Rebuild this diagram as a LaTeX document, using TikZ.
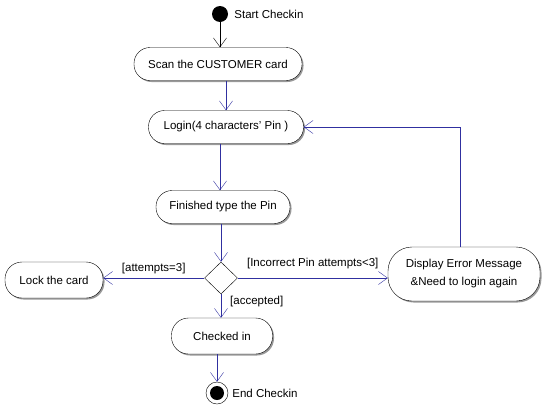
\documentclass[tikz,border=0pt]{standalone}
\usepackage{fontspec}
\setmainfont{Liberation Sans}
\usetikzlibrary{arrows.meta,shapes.geometric,shadows}
\definecolor{flowblue}{RGB}{48,48,160}
\tikzset{
  activity/.style={draw,fill=white,rounded corners=16pt,minimum height=33pt,align=center,inner sep=2pt,
    drop shadow={shadow xshift=1.5pt,shadow yshift=-1.5pt,fill=gray!80,opacity=1}},
  flow/.style={draw=flowblue,-{Straight Barb[length=9pt,width=13pt]}},
  guard/.style={inner sep=1pt}
}

\begin{document}
\begin{tikzpicture}[x=1pt,y=-1pt,font=\fontsize{11.5}{13}\selectfont]
    \useasboundingbox (0,0) rectangle (544,410);

    \node[circle,fill,minimum size=16pt,inner sep=0] (start) at (220,14) {};
    \node[anchor=west,inner sep=0] (startlbl) at ([xshift=6pt]start.east) {Start Checkin};

    \node[activity,minimum width=168pt] (scan) at (218,64) {Scan the CUSTOMER card};
    \node[activity,minimum width=155pt] (login) at (226,127) {Login(4 characters' Pin )};
    \node[activity,minimum width=134pt] (typed) at (223,207) {Finished type the Pin};
    \node[diamond,draw,fill=white,minimum width=33pt,minimum height=32pt,inner sep=0] (check) at (221,278) {};
    \node[activity,minimum width=98pt,minimum height=36pt,rounded corners=17pt] (lock) at (54,280) {Lock the card};
    \node[activity,minimum width=101pt,minimum height=36pt,rounded corners=17pt] (checked) at (222,336) {Checked in};
    \node[activity,minimum width=152pt,minimum height=54pt,rounded corners=24pt,
        font=\fontsize{11.5}{18}\selectfont] (error) at (464,274)
        {Display Error Message\\\&Need to login again};

    \node[circle,draw,fill=white,minimum size=22pt,inner sep=0,
        path picture={\fill[black] (path picture bounding box.center) circle (7pt);}] (end) at (217,393) {};
    \node[anchor=west,inner sep=0] (endlbl) at ([xshift=4pt]end.east) {End Checkin};

    % flows
    \coordinate (typedin) at ([xshift=-3pt]typed.north);
    \draw[-{Straight Barb[length=9pt,width=13pt]}] (start) -- (start |- scan.north);
    \draw[flow] (login.north |- scan.south) -- (login.north);
    \draw[flow] (typedin |- login.south) -- (typedin);
    \draw[flow] (check.north |- typed.south) -- (check.north);
    \draw[flow] (check.west) -- node[guard,above=3pt] {[attempts=3]} (check.west -| lock.east);
    \draw[flow] (check.east) -- node[guard,above=8pt] {[Incorrect Pin attempts<3]} (check.east -| error.west);
    \draw[flow] (check.south) -- (check.south |- checked.north);
    \node[guard,anchor=north west] (acc) at ([xshift=8pt,yshift=-1pt]check.south) {[accepted]};
    \draw[flow] (end |- checked.south) -- (end.north);
    \draw[flow] ([xshift=-4pt]error.north) |- (login.east);
\end{tikzpicture}
\end{document}
